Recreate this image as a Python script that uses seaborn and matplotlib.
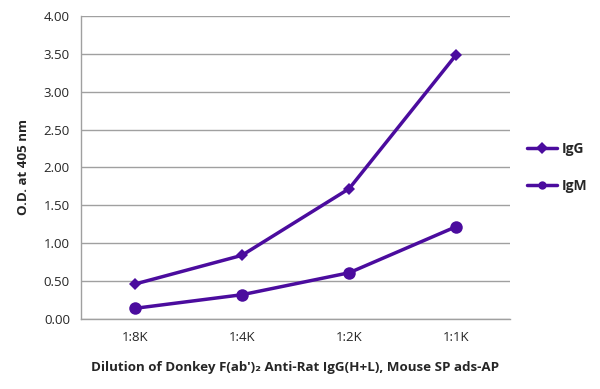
import matplotlib
matplotlib.use('Agg')
import matplotlib.pyplot as plt
import seaborn as sns
import pandas as pd
import numpy as np
from matplotlib.ticker import FixedLocator

dilutions = ['1:8K', '1:4K', '1:2K', '1:1K']
igg = [0.46, 0.84, 1.72, 3.49]
igm = [0.14, 0.32, 0.61, 1.22]
y_ticks = [0, 0.5, 1.0, 1.5, 2.0, 2.5, 3.0, 3.5, 4.0]

purple = '#4B0C9E'

sns.set_style('white')
plt.rcParams['font.family'] = ['Open Sans', 'DejaVu Sans']

df = pd.DataFrame({
    'dilution': dilutions * 2,
    'od': igg + igm,
    'series': ['IgG'] * 4 + ['IgM'] * 4,
})

fig = plt.figure(figsize=(6, 3.89), dpi=100)
ax = fig.add_axes([0.135, 0.18, 0.715, 0.779])

sns.lineplot(data=df, x='dilution', y='od', hue='series', style='series',
             palette=[purple, purple], markers={'IgG': 'D', 'IgM': 'o'},
             dashes=False, linewidth=2.5, markersize=8, markeredgewidth=0,
             ax=ax, sort=False)
for line in ax.lines:
    if line.get_marker() == 'D':
        line.set_markersize(6.5)
    elif line.get_marker() == 'o':
        line.set_markersize(9)

ax.set_xlim(-0.5, 3.5)
ax.set_ylim(0, 4)
ax.set_yticks(y_ticks)
ax.set_yticklabels([f'{v:.2f}' for v in y_ticks], fontsize=9.5)
ax.yaxis.grid(True, color='#a0a0a0', linewidth=1)
ax.set_axisbelow(True)
ax.tick_params(axis='y', length=4, color='#a0a0a0', pad=4)
ax.tick_params(axis='x', which='major', length=0, labelsize=9.5, pad=9)
ax.xaxis.set_minor_locator(FixedLocator(np.arange(-0.5, 4, 1)))
ax.tick_params(axis='x', which='minor', length=5, color='#a0a0a0', direction='out')

for s in ['top', 'right']:
    ax.spines[s].set_visible(False)
for s in ['left', 'bottom']:
    ax.spines[s].set_color('#a0a0a0')
    ax.spines[s].set_linewidth(1)

ax.set_xlabel("Dilution of Donkey F(ab')\u2082 Anti-Rat IgG(H+L), Mouse SP ads-AP",
              fontsize=9.6, fontweight='bold', labelpad=12)
ax.set_ylabel('O.D. at 405 nm', fontsize=9.6, fontweight='bold', labelpad=10)

handles, labels = ax.get_legend_handles_labels()
leg = ax.legend(handles, labels, loc='center left', bbox_to_anchor=(1.01, 0.5),
                frameon=False, prop={'weight': 'bold', 'size': 10},
                handlelength=2.2, handletextpad=0.3, labelspacing=1.6)
for h in leg.legend_handles:
    h.set_markersize(6)

fig.savefig('out.png', dpi=100)
